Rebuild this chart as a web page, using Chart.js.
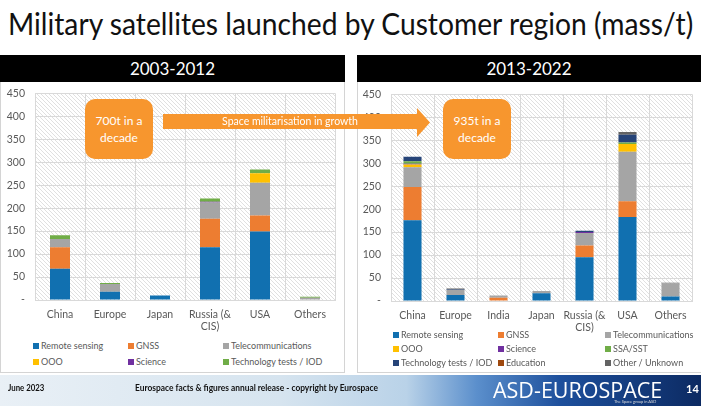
<!DOCTYPE html>
<html>
<head>
<meta charset="utf-8">
<script src="https://cdn.jsdelivr.net/npm/chart.js@4.4.0/dist/chart.umd.min.js"></script>
<style>
  html, body { margin: 0; padding: 0; }
  body { width: 701px; height: 406px; position: relative; overflow: hidden; background: #fff; font-family: Lato, 'Open Sans', sans-serif; }
  #title { position: absolute; left: 8px; top: 4px; font-size: 31px; color: #111; white-space: nowrap; transform-origin: 0 0; }
  .head { position: absolute; top: 55px; height: 27px; background: #000; color: #fff; font-size: 17px; line-height: 27px; text-align: center; }
  .panel { position: absolute; top: 82px; height: 291px; border: 1px solid #d4d4d4; border-top: none; box-sizing: border-box; background: #fff; }
  .wrap { position: absolute; }
  .legend { position: absolute; display: grid; font-size: 9px; color: #595959; }
  .legend div { white-space: nowrap; }
  .legend span { display: inline-block; width: 6px; height: 6px; margin-right: 2px; vertical-align: 0px; }
  .box { position: absolute; top: 99px; width: 68px; height: 60px; border-radius: 10px; background: #f7962e; color: #fff; font-size: 12px; line-height: 17px; display: flex; align-items: center; justify-content: center; text-align: center; }
  #arrow { position: absolute; left: 0; top: 0; }
  #arrowText { position: absolute; left: 163px; width: 254px; top: 114px; height: 15px; line-height: 15px; text-align: center; font-size: 10.5px; color: #fff; }
  #footer { position: absolute; left: 0; top: 375px; width: 701px; height: 31px;
    background: linear-gradient(90deg, #e9f0f6 0%, #d6e4ef 40%, #b9d2e8 58%, #5b8fcc 68%, #1d4f9c 80%, #0c2a62 100%); }
  #footer .t { position: absolute; top: 6px; font-size: 10px; color: #111; font-weight: bold; white-space: nowrap; transform-origin: 0 0; }
  #logo { position: absolute; left: 493px; top: 2px; font-family: 'Open Sans', sans-serif; font-size: 22px; line-height: 24px; color: #fff; transform-origin: 0 0; white-space: nowrap; }
  #logoSub { position: absolute; left: 614px; top: 24px; font-size: 4px; color: #ddd; white-space: nowrap; }
  #page { position: absolute; left: 686px; top: 7px; font-size: 11px; color: #fff; font-weight: bold; }
</style>
</head>
<body>
<div id="title">Military satellites launched by Customer region (mass/t)</div>

<div class="head" style="left:0; width:345px;">2003-2012</div>
<div class="head" style="left:357px; width:344px;">2013-2022</div>
<div class="panel" style="left:0; width:345px;"></div>
<div class="panel" style="left:357px; width:346px;"></div>

<div class="wrap" style="left:0; top:77px; width:345px; height:263px;"><canvas id="chartA"></canvas></div>
<div class="wrap" style="left:357px; top:78px; width:344px; height:263px;"><canvas id="chartB"></canvas></div>

<div class="legend" id="legendA" style="left:33px; top:340px; grid-template-columns: 95px 95px 110px; grid-auto-rows: 16px;"></div>
<div class="legend" id="legendB" style="left:393px; top:329px; grid-template-columns: 105px 107px 100px; grid-auto-rows: 14px;"></div>

<svg id="arrow" width="701" height="406">
  <polygon points="163,114 417,114 417,108 430,122.5 417,137 417,129 163,129" fill="#f7962e"/>
</svg>
<div id="arrowText">Space militarisation in growth</div>
<div class="box" style="left:85px;">700t in a<br>decade</div>
<div class="box" style="left:443px;">935t in a<br>decade</div>

<div id="footer">
  <div class="t" id="fDate" style="left:8px;">June 2023</div>
  <div class="t" id="fNote" style="left:135px;">Eurospace facts &amp; figures annual release - copyright by Eurospace</div>
  <div id="logo">ASD-EUROSPACE</div>
  <div id="logoSub">The Space group in ASD</div>
  <div id="page">14</div>
</div>

<script>
// 2003-2012
const regionsA = ['China', 'Europe', 'Japan', ['Russia (&', 'CIS)'], 'USA', 'Others'];
const remoteA  = [68, 18, 10, 115, 149, 0];
const gnssA    = [47, 0, 0, 62, 35, 0];
const telecomA = [18, 17, 0, 35, 71, 5];
const oooA     = [0, 0, 0, 0, 21, 0];
const scienceA = [0, 0, 0, 2, 0, 0];
const techA    = [8, 2, 0, 7, 8, 2];

// 2013-2022
const regionsB = ['China', 'Europe', 'India', 'Japan', ['Russia (&', 'CIS)'], 'USA', 'Others'];
const remoteB  = [176, 13, 0, 17, 95, 183, 10];
const gnssB    = [72, 0, 7, 0, 26, 34, 0];
const telecomB = [43, 11, 5, 5, 27, 108, 28];
const oooB     = [6, 0, 0, 0, 0, 17, 0];
const scienceB = [2, 0, 0, 0, 2, 0, 0];
const ssaB     = [5, 0, 0, 0, 0, 3, 0];
const techB    = [10, 1, 0, 0, 3, 17, 0];
const eduB     = [0, 0, 0, 0, 0, 0, 0];
const otherB   = [0, 2, 0, 0, 0, 6, 2];

const yTicks = [0, 50, 100, 150, 200, 250, 300, 350, 400, 450];

const C = {
  blue: '#1170b0', orange: '#ed7d31', gray: '#a5a5a5', yellow: '#ffc000',
  purple: '#7030a0', green: '#70ad47', navy: '#264478', brown: '#9e480e', dark: '#636363'
};

// squeeze a line of text to a given width (Calibri is narrower than what we have)
function fitWidth(id, w) {
  const el = document.getElementById(id);
  el.style.transform = 'scaleX(' + (w / el.offsetWidth) + ')';
}
fitWidth('title', 685);
fitWidth('logo', 169);
fitWidth('fDate', 36);
fitWidth('fNote', 243);

Chart.defaults.font.family = 'Lato, "Open Sans", sans-serif';
Chart.defaults.color = '#595959';

// hatched plot background
const pat = document.createElement('canvas');
pat.width = 4; pat.height = 4;
const pctx = pat.getContext('2d');
pctx.fillStyle = '#ffffff';
pctx.fillRect(0, 0, 4, 4);
pctx.strokeStyle = '#e0e0e0';
pctx.lineWidth = 1;
pctx.beginPath();
pctx.moveTo(0, 0); pctx.lineTo(4, 4);
pctx.moveTo(-1, 3); pctx.lineTo(1, 5);
pctx.moveTo(3, -1); pctx.lineTo(5, 1);
pctx.stroke();

const hatch = {
  id: 'hatch',
  beforeDraw(chart) {
    const a = chart.chartArea, ctx = chart.ctx;
    ctx.save();
    ctx.fillStyle = ctx.createPattern(pat, 'repeat');
    ctx.fillRect(a.left, a.top, a.right - a.left, a.bottom - a.top);
    ctx.restore();
  }
};

function makeChart(id, labels, datasets, yWidth, padRight, barPct) {
  return new Chart(document.getElementById(id), {
    type: 'bar',
    data: { labels: labels, datasets: datasets },
    plugins: [hatch],
    options: {
      responsive: true,
      maintainAspectRatio: false,
      animation: false,
      layout: { padding: { top: 14, right: padRight, left: 0, bottom: 0 } },
      datasets: { bar: { categoryPercentage: 1, barPercentage: barPct } },
      plugins: { legend: { display: false }, tooltip: { enabled: false } },
      scales: {
        x: {
          stacked: true,
          grid: { color: '#d9d9d9', drawTicks: false },
          border: { color: '#d9d9d9' },
          ticks: { padding: 8, font: { size: 10.5 }, color: '#595959',
                   maxRotation: 0, minRotation: 0, autoSkip: false },
          afterFit: s => { s.height = 40; }
        },
        y: {
          stacked: true,
          min: 0, max: 450,
          afterBuildTicks: s => { s.ticks = yTicks.map(v => ({ value: v })); },
          grid: { color: '#d9d9d9', drawTicks: false },
          border: { display: false },
          ticks: { padding: 10, font: { size: 10.5 }, color: '#595959',
                   callback: v => v === 0 ? '-' : v },
          afterFit: s => { s.width = yWidth; }
        }
      }
    }
  });
}

function ds(label, data, color) {
  return { label: label, data: data, backgroundColor: color };
}

const chartA = makeChart('chartA', regionsA, [
  ds('Remote sensing', remoteA, C.blue),
  ds('GNSS', gnssA, C.orange),
  ds('Telecommunications', telecomA, C.gray),
  ds('OOO', oooA, C.yellow),
  ds('Science', scienceA, C.purple),
  ds('Technology tests / IOD', techA, C.green)
], 35, 10, 0.4);

const chartB = makeChart('chartB', regionsB, [
  ds('Remote sensing', remoteB, C.blue),
  ds('GNSS', gnssB, C.orange),
  ds('Telecommunications', telecomB, C.gray),
  ds('OOO', oooB, C.yellow),
  ds('Science', scienceB, C.purple),
  ds('SSA/SST', ssaB, C.green),
  ds('Technology tests / IOD', techB, C.navy),
  ds('Education', eduB, C.brown),
  ds('Other / Unknown', otherB, C.dark)
], 34, 9, 0.42);

function buildLegend(chart, el) {
  const box = document.getElementById(el);
  chart.data.datasets.forEach(d => {
    const item = document.createElement('div');
    const sw = document.createElement('span');
    sw.style.background = d.backgroundColor;
    item.appendChild(sw);
    item.appendChild(document.createTextNode(d.label));
    box.appendChild(item);
  });
}
buildLegend(chartA, 'legendA');
buildLegend(chartB, 'legendB');
</script>
</body>
</html>
